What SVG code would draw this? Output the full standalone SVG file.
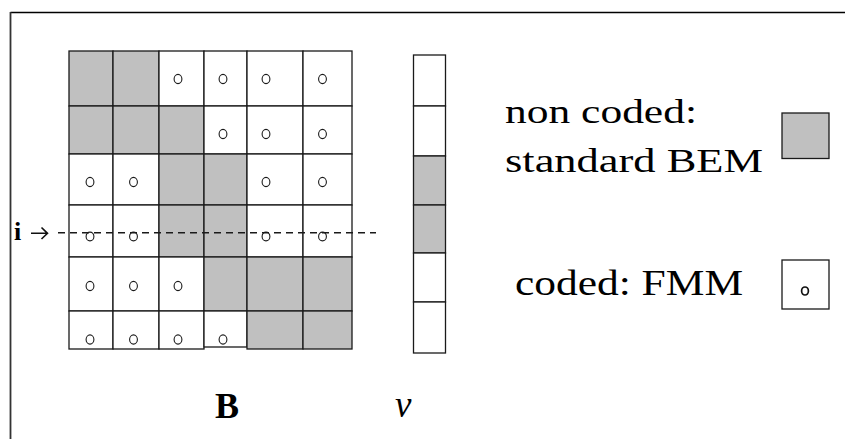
<svg xmlns="http://www.w3.org/2000/svg" width="845" height="439" viewBox="0 0 845 439">
<style>
.c{stroke:#1a1a1a;stroke-width:1.3;fill:#ffffff}
.g{stroke:#1a1a1a;stroke-width:1.3;fill:#c0c0c0}
.o{fill:none;stroke:#1a1a1a;stroke-width:1.1}
.t{font-family:"Liberation Serif","Times New Roman",serif;fill:#000}
</style>
<rect x="0" y="0" width="845" height="439" fill="#ffffff"/>
<g id="frame">
<line x1="10.5" y1="12.5" x2="845" y2="12.5" stroke="#000" stroke-width="1.6"/>
<line x1="10.5" y1="12" x2="10.5" y2="439" stroke="#333" stroke-width="1.8"/>
</g>
<g id="matrix-B">
<rect class="g" x="69" y="51" width="44" height="55"/>
<rect class="g" x="113" y="51" width="46" height="55"/>
<rect class="c" x="159" y="51" width="45" height="55"/>
<rect class="c" x="204" y="51" width="43" height="55"/>
<rect class="c" x="247" y="51" width="56" height="55"/>
<rect class="c" x="303" y="51" width="49" height="55"/>
<rect class="g" x="69" y="106" width="44" height="48"/>
<rect class="g" x="113" y="106" width="46" height="48"/>
<rect class="g" x="159" y="106" width="45" height="48"/>
<rect class="c" x="204" y="106" width="43" height="48"/>
<rect class="c" x="247" y="106" width="56" height="48"/>
<rect class="c" x="303" y="106" width="49" height="48"/>
<rect class="c" x="69" y="154" width="44" height="51"/>
<rect class="c" x="113" y="154" width="46" height="51"/>
<rect class="g" x="159" y="154" width="45" height="51"/>
<rect class="g" x="204" y="154" width="43" height="51"/>
<rect class="c" x="247" y="154" width="56" height="51"/>
<rect class="c" x="303" y="154" width="49" height="51"/>
<rect class="c" x="69" y="205" width="44" height="52"/>
<rect class="c" x="113" y="205" width="46" height="52"/>
<rect class="g" x="159" y="205" width="45" height="52"/>
<rect class="g" x="204" y="205" width="43" height="52"/>
<rect class="c" x="247" y="205" width="56" height="52"/>
<rect class="c" x="303" y="205" width="49" height="52"/>
<rect class="c" x="69" y="257" width="44" height="54"/>
<rect class="c" x="113" y="257" width="46" height="54"/>
<rect class="c" x="159" y="257" width="45" height="54"/>
<rect class="g" x="204" y="257" width="43" height="54"/>
<rect class="g" x="247" y="257" width="56" height="54"/>
<rect class="g" x="303" y="257" width="49" height="54"/>
<rect class="c" x="69" y="311" width="44" height="38"/>
<rect class="c" x="113" y="311" width="46" height="38"/>
<rect class="c" x="159" y="311" width="45" height="38"/>
<rect class="c" x="204" y="311" width="43" height="36"/>
<rect class="g" x="247" y="311" width="56" height="38"/>
<rect class="g" x="303" y="311" width="49" height="38"/>
<g id="fmm-marks">
<ellipse class="o" cx="178" cy="79" rx="3.9" ry="4.6"/>
<ellipse class="o" cx="223" cy="79" rx="3.9" ry="4.6"/>
<ellipse class="o" cx="266" cy="79" rx="3.9" ry="4.6"/>
<ellipse class="o" cx="322.5" cy="79" rx="3.9" ry="4.6"/>
<ellipse class="o" cx="223" cy="134" rx="3.9" ry="4.6"/>
<ellipse class="o" cx="266" cy="134" rx="3.9" ry="4.6"/>
<ellipse class="o" cx="322.5" cy="134" rx="3.9" ry="4.6"/>
<ellipse class="o" cx="90" cy="182" rx="3.9" ry="4.6"/>
<ellipse class="o" cx="133.5" cy="182" rx="3.9" ry="4.6"/>
<ellipse class="o" cx="266" cy="182" rx="3.9" ry="4.6"/>
<ellipse class="o" cx="322.5" cy="182" rx="3.9" ry="4.6"/>
<ellipse class="o" cx="90" cy="236.5" rx="3.9" ry="4.4"/>
<ellipse class="o" cx="133.5" cy="236.5" rx="3.9" ry="4.4"/>
<ellipse class="o" cx="266" cy="236.5" rx="3.9" ry="4.4"/>
<ellipse class="o" cx="322.5" cy="236.5" rx="3.9" ry="4.4"/>
<ellipse class="o" cx="90" cy="286" rx="3.9" ry="4.6"/>
<ellipse class="o" cx="133.5" cy="286" rx="3.9" ry="4.6"/>
<ellipse class="o" cx="178" cy="286" rx="3.9" ry="4.6"/>
<ellipse class="o" cx="90" cy="339.5" rx="3.9" ry="4.6"/>
<ellipse class="o" cx="133.5" cy="339.5" rx="3.9" ry="4.6"/>
<ellipse class="o" cx="178" cy="339.5" rx="3.9" ry="4.6"/>
<ellipse class="o" cx="223" cy="339.5" rx="3.9" ry="4.6"/>
</g>
</g>
<g id="row-i">
<text class="t" x="14" y="239.5" font-size="26" font-weight="bold">i</text>
<path d="M31 233.3 H47.5 M41.5 227.5 L47.5 233.3 L41.5 239" fill="none" stroke="#111" stroke-width="1.6"/>
<line x1="58" y1="232.7" x2="376" y2="232.7" stroke="#1a1a1a" stroke-width="1.4" stroke-dasharray="7 5"/>
</g>
<g id="vector-v">
<rect class="c" x="413.5" y="55" width="32" height="51"/>
<rect class="c" x="413.5" y="106" width="32" height="50"/>
<rect class="g" x="413.5" y="156" width="32" height="49"/>
<rect class="g" x="413.5" y="205" width="32" height="48"/>
<rect class="c" x="413.5" y="253" width="32" height="49"/>
<rect class="c" x="413.5" y="302" width="32" height="51"/>
</g>
<g id="labels">
<text class="t" x="215" y="418" font-size="36" font-weight="bold">B</text>
<text class="t" x="395" y="417" font-size="37" font-style="italic">v</text>
</g>
<g id="legend-bem">
<text class="t" x="505" y="123" font-size="33" textLength="192" lengthAdjust="spacingAndGlyphs">non coded:</text>
<text class="t" x="505" y="172" font-size="33" textLength="258" lengthAdjust="spacingAndGlyphs">standard BEM</text>
<rect class="g" x="782" y="113" width="47" height="45.5"/>
</g>
<g id="legend-fmm">
<text class="t" x="515" y="295" font-size="35" textLength="228" lengthAdjust="spacingAndGlyphs">coded: FMM</text>
<rect class="c" x="782" y="260" width="47" height="49"/>
<ellipse cx="805" cy="291" rx="3.4" ry="4" fill="none" stroke="#111" stroke-width="1.7"/>
</g>
</svg>
